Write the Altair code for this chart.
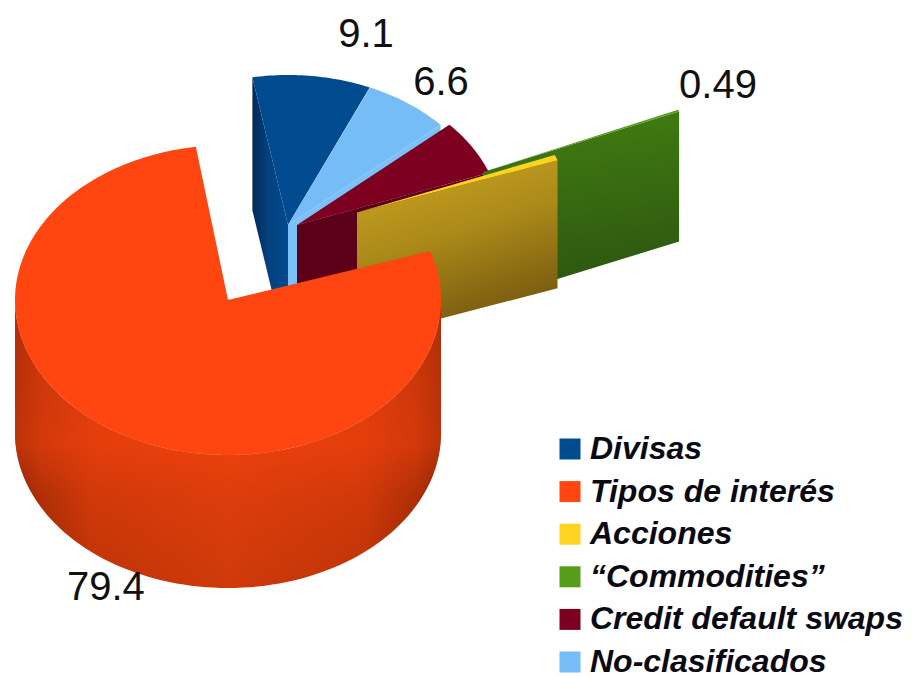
import numpy as np
import pandas as pd
import altair as alt

# ---- values ----
categories = ["Divisas", "Tipos de interés", "Acciones", "“Commodities”", "Credit default swaps", "No-clasificados"]
legend_colors = ["#004a8f", "#ff4510", "#ffd320", "#579d1c", "#7e0021", "#76bcf7"]
# angular share of each drawn wedge (% of the circle), as seen in the picture
shares = [9.3, 77.7, 0.58, 0.2, 6.0, 6.8]
label_texts = ["9.1", "79.4", "0.49", "6.6"]
label_slices = ["Divisas", "Tipos de interés", "“Commodities”", "No-clasificados"]

# ---- drawing geometry of the pseudo-3D projection (picture pixels) ----
G = {
    "Divisas":              dict(c=(288, 225), r=(205, 150), s=-10.0, d=133, wall="start"),
    "No-clasificados":      dict(c=(288, 225), r=(205, 150), s=23.6, d=133, wall="end"),
    "Credit default swaps": dict(c=(297, 225), r=(205, 150), s=48.0, d=125, wall="end"),
    "“Commodities”":        dict(c=(483, 172), r=(213, 155), s=66.3, d=130, wall="end"),
    "Acciones":             dict(c=(357, 212.5), r=(213, 155), s=68.2, d=128, wall="end"),
    "Tipos de interés":     dict(c=(228, 300), r=(213, 155), s=71.6, d=133, wall="rim"),
}
draw_order = ["Divisas", "No-clasificados", "Credit default swaps", "“Commodities”", "Acciones", "Tipos de interés"]
label_offsets = {"Divisas": (54, -41), "No-clasificados": (33, -20), "“Commodities”": (40, -24), "Tipos de interés": (-11, 156)}

share_of = dict(zip(categories, shares))
color_of = dict(zip(categories, legend_colors))


def rim(g, t):
    a = np.radians(t)
    return g["c"][0] + g["r"][0] * np.sin(a), g["c"][1] - g["r"][1] * np.cos(a)


def grad(stops, x1=0, y1=0, x2=1, y2=0):
    return alt.Gradient(gradient="linear", x1=x1, y1=y1, x2=x2, y2=y2,
                        stops=[alt.GradientStop(offset=o, color=c) for o, c in stops])


wall_fill = {
    "Divisas": grad([(0, "#032a55"), (0.45, "#03417f"), (1, "#004a8f")]),
    "No-clasificados": "#7cc0f8",
    "Credit default swaps": "#5c0018",
    "“Commodities”": grad([(0, "#437f12"), (1, "#2c5510")], 0, 0, 0.15, 1),
    "Acciones": grad([(0, "#cda720"), (0.5, "#ac8a1a"), (1, "#76590f")], 0, 0, 0.35, 1),
}

xs = alt.X("x:Q", scale=alt.Scale(domain=[8, 908]), axis=None)
ys = alt.Y("y:Q", scale=alt.Scale(domain=[677, 8]), axis=None)


def poly(points, fill):
    df = pd.DataFrame({"x": [p[0] for p in points], "y": [p[1] for p in points], "i": range(len(points))})
    return alt.Chart(df).mark_line(fill=fill, strokeWidth=0, stroke="transparent").encode(
        x=xs, y=ys, order=alt.Order("i:Q"))


# legend source: hidden beneath the big wedge's face
legend_df = pd.DataFrame({"cat": categories, "x": [228] * 6, "y": [300] * 6})
layers = [
    alt.Chart(legend_df).mark_point(filled=True, shape="square", size=4, opacity=1).encode(
        x=xs, y=ys,
        color=alt.Color("cat:N", scale=alt.Scale(domain=categories, range=legend_colors),
                        legend=alt.Legend(orient="none", legendX=546, legendY=425, title=None,
                                          symbolType="square", symbolSize=441, symbolStrokeWidth=0,
                                          symbolOpacity=1, labelFont="Liberation Sans",
                                          labelFontSize=32, labelFontStyle="italic", labelFontWeight="bold",
                                          labelColor="#0a0a14", labelOffset=4, labelLimit=400,
                                          rowPadding=10.6, padding=0))),
]

for name in draw_order:
    g = G[name]
    t0, t1 = g["s"], g["s"] + share_of[name] * 3.6
    if name == "Tipos de interés":
        ts = np.linspace(90, 270, 91)
        upper = [rim(g, t) for t in ts]
        lower = [(x, y + g["d"]) for x, y in upper][::-1]
        layers.append(poly(upper + lower, grad([(0, "#5c1700"), (0.06, "#8f2603"), (0.18, "#bd3307"), (0.5, "#cf3a0a"),
                                                (0.82, "#bd3307"), (0.94, "#8f2603"), (1, "#5c1700")], 1, 0, 0, 0)))
        layers.append(poly(upper + lower, grad([(0, "rgba(255,69,16,0.5)"), (0.5, "rgba(255,69,16,0.6)"),
                                                (0.68, "rgba(255,69,16,0.3)"), (1, "rgba(255,69,16,0)")], 0, 0, 0, 1)))
    else:
        te = t0 if g["wall"] == "start" else t1
        apex = g["c"]
        r = rim(g, te)
        layers.append(poly([apex, r, (r[0], r[1] + g["d"]), (apex[0], apex[1] + g["d"])], wall_fill[name]))
    arc = [rim(g, t) for t in np.linspace(t0, t1, max(3, int(abs(t1 - t0)) + 2))]
    layers.append(poly([g["c"]] + arc, color_of[name]))

# value labels
lab_rows = []
for txt, name in zip(label_texts, label_slices):
    g = G[name]
    t0, t1 = g["s"], g["s"] + share_of[name] * 3.6
    mx, my = rim(g, t0 if name == "“Commodities”" else (t0 + t1) / 2)
    ox, oy = label_offsets[name]
    lab_rows.append({"x": mx + ox, "y": my + oy, "t": txt})
layers.append(alt.Chart(pd.DataFrame(lab_rows)).mark_text(
    font="Liberation Sans", fontSize=40, color="#101010", align="center", baseline="middle"
).encode(x=xs, y=ys, text="t:N"))

chart = alt.layer(*layers).properties(
    width=900, height=669, padding=0, autosize=alt.AutoSizeParams(type="none"), background="white"
).configure_view(stroke=None)

chart.save("out.html", embed_options={"renderer": "svg", "actions": False})
